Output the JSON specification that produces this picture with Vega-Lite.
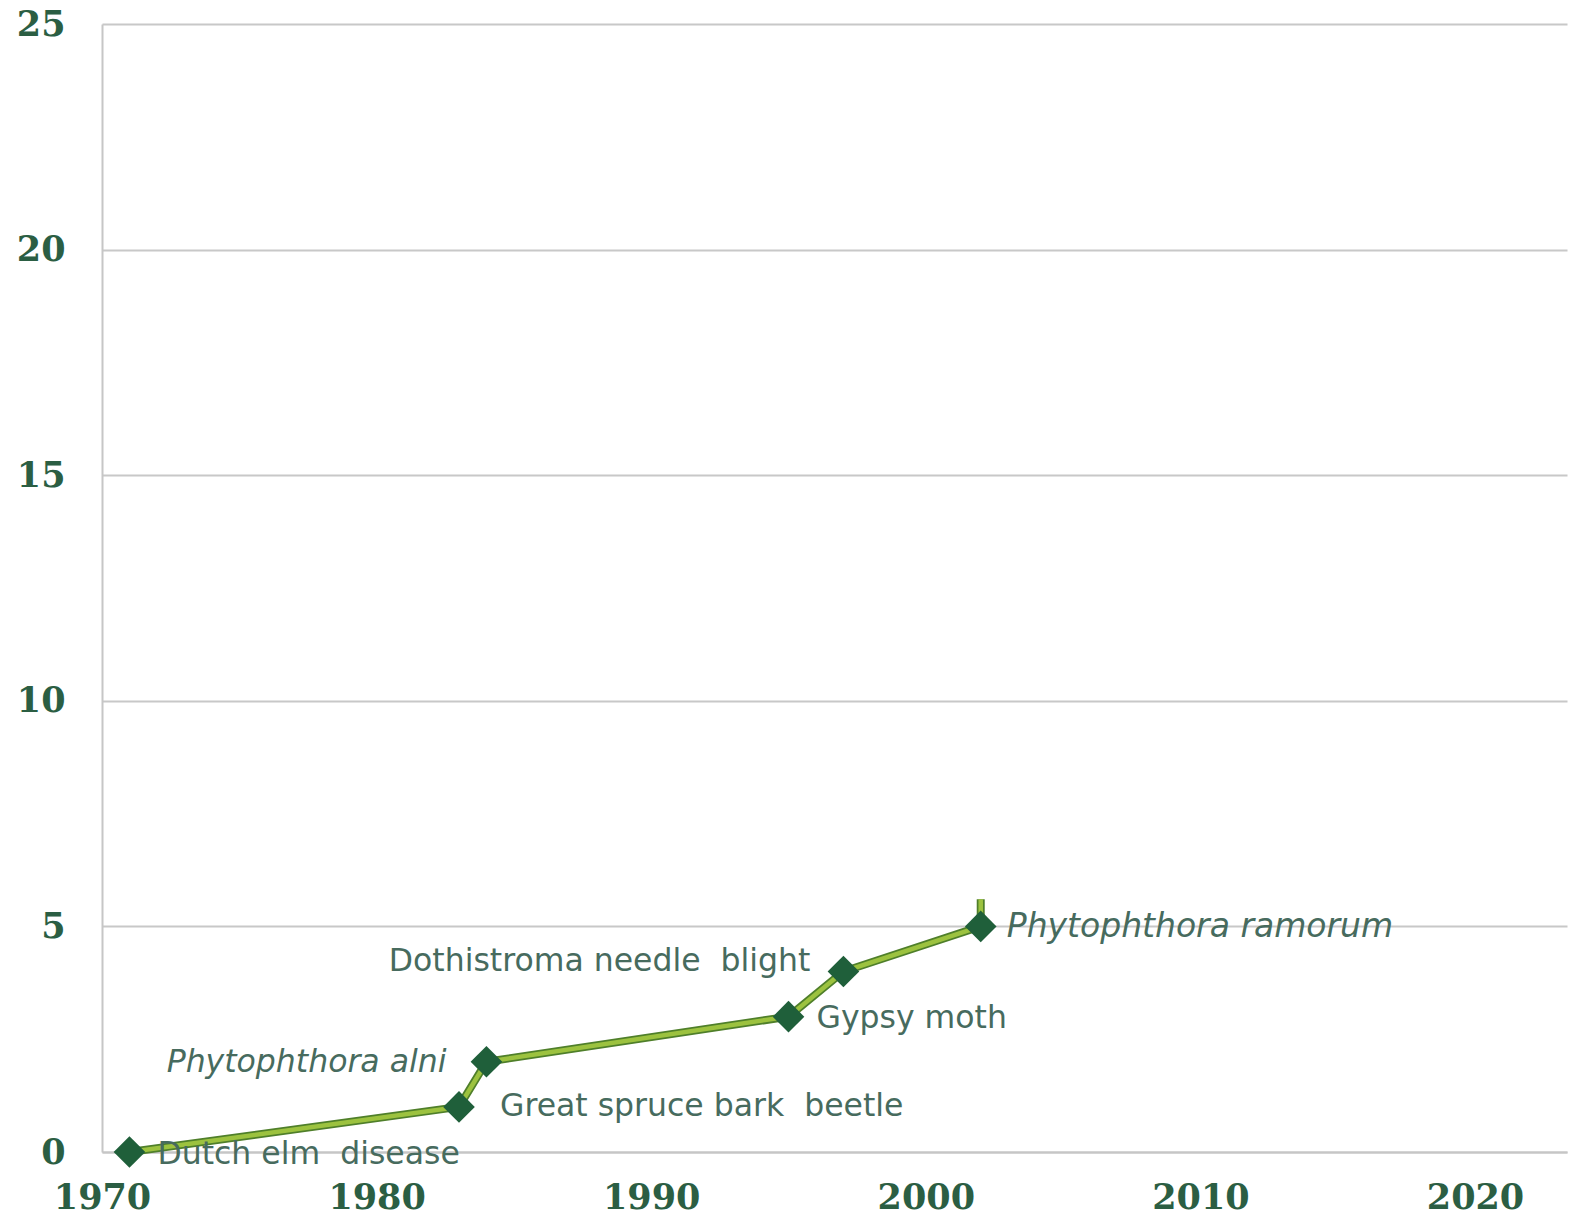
{
  "$schema": "https://vega.github.io/schema/vega-lite/v6.json",
  "autosize": "none",
  "width": 1465,
  "height": 1128,
  "padding": {"left": 102, "top": 24, "right": 27, "bottom": 66},
  "background": "white",
  "config": {"view": {"stroke": null}},
  "data": {"values": [
    {"year": 1971, "count": 0, "event": "Dutch elm\u00a0 disease"},
    {"year": 1983, "count": 1, "event": "Great spruce bark\u00a0 beetle"},
    {"year": 1984, "count": 2, "event": "Phytophthora alni"},
    {"year": 1995, "count": 3, "event": "Gypsy moth"},
    {"year": 1997, "count": 4, "event": "Dothistroma needle\u00a0 blight"},
    {"year": 2002, "count": 5, "event": "Phytophthora ramorum"},
    {"year": 2002, "count": 5.6, "event": ""}
  ]},
  "encoding": {
    "x": {"field": "year", "type": "quantitative",
      "scale": {"domain": [1970, 2023.35], "nice": false, "zero": false},
      "axis": {"title": null, "values": [1970, 1980, 1990, 2000, 2010, 2020], "format": "d",
        "grid": false, "ticks": false, "domainColor": "#c6c6c6", "domainWidth": 2,
        "labelFont": "DejaVu Serif", "labelFontWeight": "bold", "labelFontSize": 35,
        "labelColor": "#2b5e43", "labelPadding": 28, "labelFlush": false}},
    "y": {"field": "count", "type": "quantitative",
      "scale": {"domain": [0, 25], "nice": false},
      "axis": {"title": null, "values": [0, 5, 10, 15, 20, 25],
        "grid": true, "gridColor": "#c8c8c8", "gridWidth": 2, "ticks": false,
        "domainColor": "#c6c6c6", "domainWidth": 2,
        "labelFont": "DejaVu Serif", "labelFontWeight": "bold", "labelFontSize": 35,
        "labelColor": "#2b5e43", "labelPadding": 37}}
  },
  "layer": [
    {"mark": {"type": "line", "color": "#4f7f2a", "strokeWidth": 8}},
    {"mark": {"type": "line", "color": "#9cc23f", "strokeWidth": 4.5}},
    {"transform": [{"filter": "datum.event != ''"}],
     "mark": {"type": "point", "shape": "diamond", "size": 1000, "filled": true, "color": "#1f5f3a", "opacity": 1}},
    {"transform": [{"filter": "datum.year == 1971"}],
     "mark": {"type": "text", "align": "left", "baseline": "middle", "dx": 28, "dy": 3, "font": "DejaVu Sans", "fontSize": 31.5, "color": "#476b5e"},
     "encoding": {"text": {"field": "event"}}},
    {"transform": [{"filter": "datum.year == 1983"}],
     "mark": {"type": "text", "align": "left", "baseline": "middle", "dx": 41, "dy": 0, "font": "DejaVu Sans", "fontSize": 31.5, "color": "#476b5e"},
     "encoding": {"text": {"field": "event"}}},
    {"transform": [{"filter": "datum.year == 1984"}],
     "mark": {"type": "text", "align": "right", "baseline": "middle", "dx": -40, "dy": 1, "font": "DejaVu Sans", "fontStyle": "italic", "fontSize": 31.5, "color": "#476b5e"},
     "encoding": {"text": {"field": "event"}}},
    {"transform": [{"filter": "datum.year == 1995"}],
     "mark": {"type": "text", "align": "left", "baseline": "middle", "dx": 28, "dy": 2, "font": "DejaVu Sans", "fontSize": 31.5, "color": "#476b5e"},
     "encoding": {"text": {"field": "event"}}},
    {"transform": [{"filter": "datum.year == 1997"}],
     "mark": {"type": "text", "align": "right", "baseline": "middle", "dx": -33, "dy": -10, "font": "DejaVu Sans", "fontSize": 31.5, "color": "#476b5e"},
     "encoding": {"text": {"field": "event"}}},
    {"transform": [{"filter": "datum.year == 2002 && datum.event != ''"}],
     "mark": {"type": "text", "align": "left", "baseline": "middle", "dx": 26, "dy": 1, "font": "DejaVu Sans", "fontStyle": "italic", "fontSize": 33, "color": "#476b5e"},
     "encoding": {"text": {"field": "event"}}}
  ]
}
